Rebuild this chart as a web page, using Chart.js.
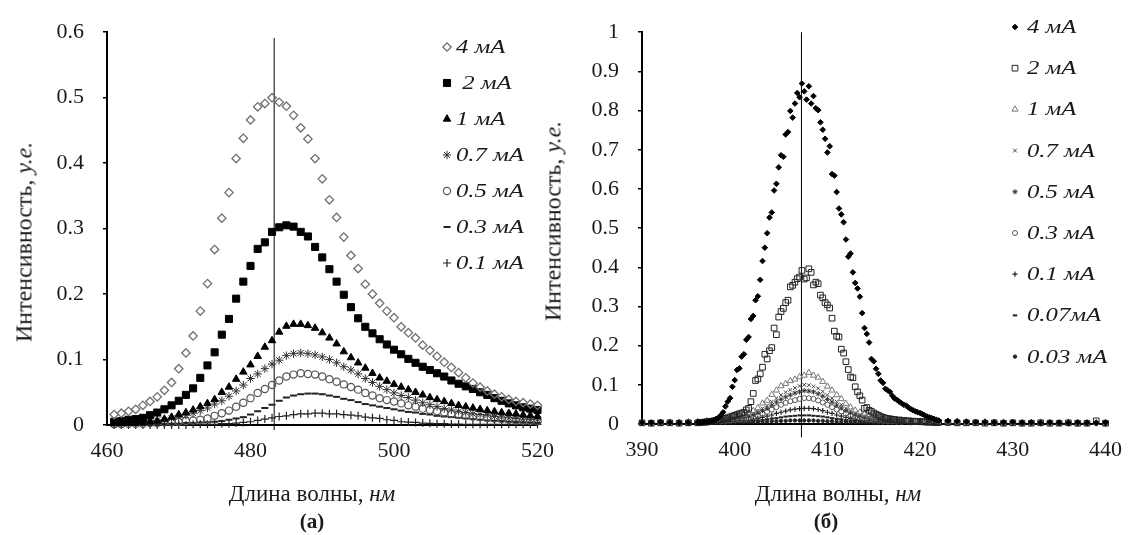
<!DOCTYPE html>
<html>
<head>
<meta charset="utf-8">
<script src="https://cdn.jsdelivr.net/npm/chart.js@4.4.0/dist/chart.umd.min.js"></script>
<style>
  body { margin: 0; background: #fff; font-family: "Liberation Serif", serif; color: #1a1a1a; }
  #wrap { position: relative; width: 1135px; height: 535px; overflow: hidden; }
  canvas { position: absolute; top: 0; }
  .t { position: absolute; font-size: 23px; white-space: nowrap; transform: translate(-50%, -50%); }
  .rot { font-size: 24px; transform: translate(-50%, -50%) rotate(-90deg); }
  .cap { font-weight: bold; font-size: 21px; }
</style>
</head>
<body>
<div id="wrap">
  <canvas id="chartA" width="567" height="535" style="left:0"></canvas>
  <canvas id="chartB" width="568" height="535" style="left:567px"></canvas>
  <div class="t rot" style="left:24px;top:242px">Интенсивность, <i>у.е.</i></div>
  <div class="t rot" style="left:553px;top:221px">Интенсивность, <i>у.е.</i></div>
  <div class="t" style="left:312px;top:494px">Длина волны, <i>нм</i></div>
  <div class="t" style="left:838px;top:494px">Длина волны, <i>нм</i></div>
  <div class="t cap" style="left:312px;top:521px">(а)</div>
  <div class="t cap" style="left:826px;top:521px">(б)</div>
</div>
<script>
// ---------- панель (а): 460–520 нм ----------
const wavelengthA = [461, 462, 463, 464, 465, 466, 467, 468, 469, 470,
  471, 472, 473, 474, 475, 476, 477, 478, 479, 480,
  481, 482, 483, 484, 485, 486, 487, 488, 489, 490,
  491, 492, 493, 494, 495, 496, 497, 498, 499, 500,
  501, 502, 503, 504, 505, 506, 507, 508, 509, 510,
  511, 512, 513, 514, 515, 516, 517, 518, 519, 520];
const currentsA = ['4 мА', ' 2 мА', '1 мА', '0.7 мА', '0.5 мА', '0.3 мА', '0.1 мА'];

const i4A = [0.016, 0.018, 0.021, 0.024, 0.030, 0.036, 0.043, 0.053, 0.065, 0.086,
  0.110, 0.136, 0.174, 0.216, 0.268, 0.316, 0.355, 0.407, 0.438, 0.466,
  0.486, 0.491, 0.500, 0.493, 0.487, 0.473, 0.454, 0.437, 0.407, 0.376,
  0.344, 0.317, 0.287, 0.259, 0.239, 0.215, 0.200, 0.186, 0.174, 0.164,
  0.150, 0.141, 0.133, 0.122, 0.114, 0.105, 0.096, 0.088, 0.080, 0.072,
  0.064, 0.058, 0.052, 0.047, 0.043, 0.039, 0.036, 0.034, 0.032, 0.030];
const i2A = [0.005, 0.006, 0.008, 0.009, 0.011, 0.015, 0.019, 0.024, 0.030, 0.037,
  0.046, 0.056, 0.072, 0.091, 0.111, 0.138, 0.162, 0.193, 0.219, 0.243,
  0.269, 0.279, 0.295, 0.302, 0.305, 0.303, 0.295, 0.288, 0.272, 0.256,
  0.238, 0.219, 0.199, 0.180, 0.163, 0.150, 0.140, 0.131, 0.123, 0.115,
  0.108, 0.101, 0.095, 0.089, 0.084, 0.079, 0.074, 0.068, 0.063, 0.059,
  0.055, 0.050, 0.046, 0.041, 0.037, 0.033, 0.030, 0.027, 0.025, 0.023];
const i1A = [0.002, 0.002, 0.003, 0.003, 0.004, 0.005, 0.006, 0.009, 0.012, 0.016,
  0.019, 0.023, 0.028, 0.033, 0.039, 0.050, 0.058, 0.070, 0.081, 0.092,
  0.105, 0.119, 0.129, 0.142, 0.151, 0.154, 0.154, 0.152, 0.148, 0.141,
  0.133, 0.124, 0.112, 0.103, 0.095, 0.087, 0.079, 0.072, 0.067, 0.062,
  0.058, 0.054, 0.050, 0.046, 0.042, 0.039, 0.036, 0.033, 0.030, 0.028,
  0.026, 0.024, 0.022, 0.0205, 0.019, 0.018, 0.017, 0.0155, 0.0145, 0.0135];
const i07A = [0.002, 0.003, 0.003, 0.004, 0.005, 0.006, 0.007, 0.008, 0.010, 0.012,
  0.015, 0.018, 0.022, 0.026, 0.032, 0.037, 0.044, 0.052, 0.061, 0.071,
  0.078, 0.086, 0.093, 0.099, 0.106, 0.109, 0.110, 0.109, 0.107, 0.104,
  0.100, 0.095, 0.089, 0.084, 0.078, 0.071, 0.065, 0.059, 0.054, 0.049,
  0.045, 0.042, 0.038, 0.034, 0.031, 0.028, 0.025, 0.023, 0.021, 0.019,
  0.017, 0.016, 0.015, 0.013, 0.012, 0.011, 0.010, 0.009, 0.0085, 0.008];
const i05A = [0.001, 0.001, 0.002, 0.002, 0.002, 0.003, 0.003, 0.004, 0.004, 0.005,
  0.006, 0.007, 0.008, 0.010, 0.014, 0.018, 0.022, 0.028, 0.034, 0.041,
  0.049, 0.055, 0.061, 0.068, 0.074, 0.077, 0.079, 0.078, 0.077, 0.074,
  0.070, 0.066, 0.062, 0.058, 0.054, 0.049, 0.045, 0.041, 0.038, 0.036,
  0.033, 0.030, 0.028, 0.025, 0.023, 0.021, 0.019, 0.017, 0.016, 0.0145,
  0.013, 0.012, 0.011, 0.010, 0.009, 0.008, 0.007, 0.0065, 0.006, 0.0055];
const i03A = [0, 0, 0.001, 0.001, 0.001, 0.001, 0.001, 0.002, 0.002, 0.002,
  0.003, 0.003, 0.004, 0.004, 0.005, 0.006, 0.008, 0.010, 0.012, 0.016,
  0.021, 0.026, 0.031, 0.037, 0.042, 0.045, 0.047, 0.048, 0.048, 0.047,
  0.045, 0.043, 0.040, 0.038, 0.035, 0.032, 0.030, 0.028, 0.026, 0.024,
  0.022, 0.020, 0.019, 0.017, 0.016, 0.014, 0.013, 0.012, 0.011, 0.010,
  0.009, 0.008, 0.007, 0.0065, 0.006, 0.005, 0.0045, 0.004, 0.0035, 0.003];
const i01A = [0, 0, 0, 0, 0, 0, 0, 0, 0, 0,
  0, 0.001, 0.001, 0.001, 0.001, 0.002, 0.002, 0.003, 0.004, 0.005,
  0.007, 0.009, 0.011, 0.013, 0.014, 0.016, 0.017, 0.017, 0.018, 0.018,
  0.017, 0.017, 0.016, 0.015, 0.014, 0.012, 0.011, 0.010, 0.008, 0.007,
  0.005, 0.0045, 0.004, 0.003, 0.0025, 0.002, 0.002, 0.0015, 0.0015, 0.001,
  0.001, 0.001, 0.001, 0.001, 0.001, 0.001, 0.001, 0.001, 0.001, 0.001];
const peakLineA = 483.3;

// ---------- панель (б): 390–440 нм ----------
const currentsB = ['4 мА', '2 мА', '1 мА', '0.7 мА', '0.5 мА', '0.3 мА', '0.1 мА', '0.07мА', '0.03 мА'];

// 4 и 2 мА: частая сетка в пике + хвосты
const wlFineB = [396, 396.25, 396.5, 396.75, 397, 397.25, 397.5, 397.75,
  398, 398.25, 398.5, 398.75, 399, 399.25, 399.5, 399.75,
  400, 400.25, 400.5, 400.75, 401, 401.25, 401.5, 401.75,
  402, 402.25, 402.5, 402.75, 403, 403.25, 403.5, 403.75,
  404, 404.25, 404.5, 404.75, 405, 405.25, 405.5, 405.75,
  406, 406.25, 406.5, 406.75, 407, 407.25, 407.5, 407.75,
  408, 408.25, 408.5, 408.75, 409, 409.25, 409.5, 409.75,
  410, 410.25, 410.5, 410.75, 411, 411.25, 411.5, 411.75,
  412, 412.25, 412.5, 412.75, 413, 413.25, 413.5, 413.75,
  414, 414.25, 414.5, 414.75, 415, 415.25, 415.5, 415.75,
  416, 416.25, 416.5, 416.75, 417, 417.25, 417.5, 417.75,
  418, 418.25, 418.5, 418.75, 419, 419.25, 419.5, 419.75,
  420, 420.25, 420.5, 420.75, 421, 421.25, 421.5, 421.75, 422];
const i4FineB = [0.004, 0.005, 0.004, 0.006, 0.005, 0.007, 0.008, 0.010,
  0.013, 0.016, 0.022, 0.030, 0.045, 0.057, 0.066, 0.095,
  0.112, 0.138, 0.142, 0.172, 0.178, 0.215, 0.222, 0.268,
  0.276, 0.316, 0.326, 0.368, 0.416, 0.450, 0.487, 0.527,
  0.540, 0.596, 0.613, 0.655, 0.686, 0.682, 0.739, 0.745,
  0.799, 0.782, 0.818, 0.845, 0.834, 0.869, 0.849, 0.828,
  0.862, 0.818, 0.837, 0.806, 0.801, 0.770, 0.751, 0.728,
  0.693, 0.709, 0.638, 0.634, 0.592, 0.550, 0.535, 0.515,
  0.471, 0.427, 0.435, 0.387, 0.360, 0.346, 0.325, 0.283,
  0.245, 0.230, 0.208, 0.166, 0.160, 0.141, 0.128, 0.111,
  0.105, 0.090, 0.086, 0.082, 0.072, 0.065, 0.062, 0.057,
  0.053, 0.049, 0.047, 0.042, 0.038, 0.035, 0.032, 0.030,
  0.028, 0.025, 0.022, 0.019, 0.017, 0.015, 0.013, 0.011, 0.009];
const i2FineB = [0.003, 0.004, 0.004, 0.005, 0.005, 0.006, 0.007, 0.008,
  0.009, 0.010, 0.011, 0.013, 0.014, 0.016, 0.018, 0.020,
  0.022, 0.024, 0.026, 0.028, 0.030, 0.036, 0.040, 0.057,
  0.078, 0.111, 0.115, 0.128, 0.145, 0.178, 0.166, 0.187,
  0.195, 0.245, 0.228, 0.273, 0.287, 0.295, 0.310, 0.316,
  0.350, 0.354, 0.362, 0.371, 0.375, 0.392, 0.370, 0.373,
  0.396, 0.387, 0.355, 0.362, 0.358, 0.329, 0.322, 0.310,
  0.304, 0.296, 0.270, 0.237, 0.224, 0.222, 0.191, 0.181,
  0.159, 0.139, 0.120, 0.118, 0.095, 0.082, 0.072, 0.061,
  0.040, 0.042, 0.035, 0.032, 0.028, 0.025, 0.022, 0.019,
  0.017, 0.015, 0.014, 0.013, 0.012, 0.011, 0.010, 0.010,
  0.009, 0.009, 0.008, 0.008, 0.007, 0.007, 0.007, 0.006,
  0.006, 0.006, 0.005, 0.005, 0.005, 0.005, 0.004, 0.004, 0.004];
const wlWideTailB = [390, 391, 392, 393, 394, 395,
  423, 424, 425, 426, 427, 428, 429, 430, 431, 432, 433, 434, 435, 436, 437, 438, 439, 440];
const i4TailB = [0.004, 0.003, 0.005, 0.004, 0.003, 0.004,
  0.008, 0.007, 0.006, 0.005, 0.005, 0.004, 0.004, 0.005, 0.003, 0.004, 0.003, 0.004, 0.003, 0.003, 0.004, 0.003, 0.003, 0.004];
const i2TailB = [0.003, 0.002, 0.003, 0.003, 0.002, 0.003,
  0.004, 0.003, 0.003, 0.003, 0.002, 0.003, 0.002, 0.003, 0.002, 0.002, 0.003, 0.002, 0.002, 0.003, 0.002, 0.002, 0.008, 0.002];

// малые токи: шаг 0.5 нм в пике, 1 нм на хвостах
const wlPeakB = [398, 398.5, 399, 399.5, 400, 400.5, 401, 401.5, 402, 402.5,
  403, 403.5, 404, 404.5, 405, 405.5, 406, 406.5, 407, 407.5,
  408, 408.5, 409, 409.5, 410, 410.5, 411, 411.5, 412, 412.5,
  413, 413.5, 414, 414.5, 415, 415.5, 416, 416.5, 417, 417.5, 418];
const wlTailB = [390, 391, 392, 393, 394, 395, 396, 397,
  419, 420, 421, 422, 423, 424, 425, 426, 427, 428, 429, 430, 431,
  432, 433, 434, 435, 436, 437, 438, 439, 440];

const i1PeakB = [0.011, 0.013, 0.015, 0.017, 0.019, 0.022, 0.024, 0.028, 0.034, 0.041,
  0.053, 0.060, 0.075, 0.086, 0.097, 0.103, 0.110, 0.114, 0.120, 0.124,
  0.131, 0.124, 0.119, 0.108, 0.096, 0.086, 0.074, 0.064, 0.052, 0.043,
  0.035, 0.030, 0.025, 0.022, 0.019, 0.017, 0.015, 0.013, 0.012, 0.011, 0.010];
const i07PeakB = [0.009, 0.010, 0.012, 0.013, 0.015, 0.017, 0.019, 0.022, 0.027, 0.032,
  0.040, 0.047, 0.057, 0.066, 0.074, 0.081, 0.087, 0.092, 0.097, 0.100,
  0.099, 0.096, 0.091, 0.083, 0.074, 0.066, 0.057, 0.049, 0.040, 0.033,
  0.027, 0.023, 0.020, 0.017, 0.015, 0.013, 0.012, 0.010, 0.009, 0.009, 0.008];
const i05PeakB = [0.008, 0.009, 0.010, 0.011, 0.013, 0.015, 0.017, 0.019, 0.023, 0.028,
  0.034, 0.040, 0.048, 0.056, 0.063, 0.069, 0.074, 0.079, 0.082, 0.085,
  0.084, 0.082, 0.077, 0.071, 0.063, 0.056, 0.048, 0.041, 0.034, 0.028,
  0.023, 0.020, 0.017, 0.015, 0.013, 0.011, 0.010, 0.009, 0.008, 0.008, 0.007];
const i03PeakB = [0.007, 0.007, 0.008, 0.009, 0.010, 0.012, 0.013, 0.015, 0.018, 0.022,
  0.026, 0.031, 0.037, 0.043, 0.049, 0.054, 0.058, 0.061, 0.064, 0.066,
  0.066, 0.064, 0.060, 0.055, 0.049, 0.043, 0.037, 0.032, 0.027, 0.022,
  0.018, 0.016, 0.014, 0.012, 0.010, 0.009, 0.008, 0.007, 0.007, 0.006, 0.006];
const i01PeakB = [0.005, 0.005, 0.006, 0.006, 0.007, 0.008, 0.009, 0.010, 0.012, 0.014,
  0.017, 0.020, 0.023, 0.027, 0.030, 0.033, 0.036, 0.038, 0.039, 0.040,
  0.040, 0.039, 0.037, 0.034, 0.030, 0.027, 0.023, 0.020, 0.017, 0.014,
  0.012, 0.010, 0.009, 0.008, 0.007, 0.006, 0.006, 0.005, 0.005, 0.005, 0.004];
const i007PeakB = [0.004, 0.004, 0.004, 0.005, 0.005, 0.006, 0.006, 0.007, 0.008, 0.009,
  0.010, 0.012, 0.014, 0.015, 0.017, 0.019, 0.020, 0.021, 0.022, 0.022,
  0.022, 0.021, 0.020, 0.019, 0.017, 0.015, 0.013, 0.012, 0.010, 0.009,
  0.008, 0.007, 0.006, 0.006, 0.005, 0.005, 0.005, 0.004, 0.004, 0.004, 0.004];
const i003PeakB = [0.003, 0.003, 0.003, 0.003, 0.004, 0.004, 0.004, 0.004, 0.005, 0.005,
  0.006, 0.006, 0.007, 0.007, 0.008, 0.008, 0.009, 0.009, 0.009, 0.009,
  0.009, 0.009, 0.008, 0.008, 0.007, 0.007, 0.006, 0.006, 0.005, 0.005,
  0.004, 0.004, 0.004, 0.004, 0.003, 0.003, 0.003, 0.003, 0.003, 0.003, 0.003];

const i1TailB = [0.004, 0.003, 0.004, 0.003, 0.004, 0.005, 0.006, 0.008,
  0.008, 0.007, 0.006, 0.006, 0.005, 0.005, 0.004, 0.004, 0.005, 0.004, 0.004, 0.003, 0.004,
  0.003, 0.004, 0.003, 0.003, 0.004, 0.003, 0.003, 0.003, 0.003];
const i07TailB = [0.003, 0.003, 0.004, 0.003, 0.003, 0.004, 0.005, 0.007,
  0.007, 0.006, 0.006, 0.005, 0.005, 0.004, 0.004, 0.004, 0.003, 0.004, 0.003, 0.003, 0.003,
  0.004, 0.003, 0.003, 0.002, 0.003, 0.003, 0.002, 0.003, 0.003];
const i05TailB = [0.003, 0.002, 0.003, 0.003, 0.002, 0.003, 0.004, 0.006,
  0.006, 0.006, 0.005, 0.005, 0.004, 0.004, 0.004, 0.003, 0.003, 0.003, 0.003, 0.002, 0.003,
  0.003, 0.002, 0.002, 0.003, 0.002, 0.002, 0.002, 0.002, 0.002];
const i03TailB = [0.002, 0.002, 0.002, 0.003, 0.002, 0.002, 0.003, 0.005,
  0.005, 0.005, 0.004, 0.004, 0.004, 0.003, 0.003, 0.003, 0.003, 0.002, 0.002, 0.002, 0.002,
  0.002, 0.002, 0.002, 0.002, 0.002, 0.001, 0.002, 0.002, 0.001];
const i01TailB = [0.002, 0.001, 0.002, 0.002, 0.001, 0.002, 0.003, 0.004,
  0.004, 0.004, 0.003, 0.003, 0.003, 0.002, 0.002, 0.002, 0.002, 0.002, 0.001, 0.002, 0.001,
  0.002, 0.001, 0.001, 0.002, 0.001, 0.001, 0.001, 0.001, 0.001];
const i007TailB = [0.001, 0.001, 0.002, 0.001, 0.001, 0.002, 0.002, 0.003,
  0.003, 0.003, 0.003, 0.002, 0.002, 0.002, 0.002, 0.001, 0.002, 0.001, 0.001, 0.001, 0.001,
  0.001, 0.001, 0.001, 0.001, 0.001, 0.001, 0.001, 0.001, 0.001];
const i003TailB = [0.001, 0.001, 0.001, 0.001, 0.001, 0.001, 0.002, 0.002,
  0.002, 0.002, 0.002, 0.002, 0.001, 0.001, 0.001, 0.001, 0.001, 0.001, 0.001, 0.001, 0.001,
  0.001, 0.001, 0.001, 0.001, 0.001, 0.001, 0.001, 0.001, 0.001];
const peakLineB = 407.2;

// ---------- оформление ----------
const serif = '"Liberation Serif", serif';
const tickFont = { family: serif, size: 22 };

const stylesA = [
  { pointStyle: 'rectRot', radius: 4.2, color: '#707070', fill: 'rgba(255,255,255,0)', bw: 1.3 },
  { pointStyle: 'rect', radius: 5, color: '#000', fill: '#000', bw: 1 },
  { pointStyle: 'triangle', radius: 4.3, color: '#000', fill: '#000', bw: 1 },
  { pointStyle: 'star', radius: 4.2, color: '#333', fill: '#333', bw: 1 },
  { pointStyle: 'circle', radius: 3.6, color: '#555', fill: 'rgba(255,255,255,0)', bw: 1.2 },
  { pointStyle: 'line', radius: 3.5, color: '#222', fill: '#222', bw: 2 },
  { pointStyle: 'cross', radius: 4, color: '#222', fill: '#222', bw: 1.2 }
];
const stylesB = [
  { pointStyle: 'rectRot', radius: 2.8, color: '#000', fill: '#000', bw: 1 },
  { pointStyle: 'rect', radius: 4, color: '#222', fill: 'rgba(255,255,255,0)', bw: 1 },
  { pointStyle: 'triangle', radius: 3.5, color: '#777', fill: 'rgba(255,255,255,0)', bw: 1 },
  { pointStyle: 'crossRot', radius: 2.6, color: '#444', fill: '#444', bw: 1 },
  { pointStyle: 'star', radius: 2.6, color: '#333', fill: '#333', bw: 1 },
  { pointStyle: 'circle', radius: 2.5, color: '#555', fill: 'rgba(255,255,255,0)', bw: 1 },
  { pointStyle: 'cross', radius: 2.6, color: '#222', fill: '#222', bw: 1.2 },
  { pointStyle: 'line', radius: 2.2, color: '#222', fill: '#222', bw: 2 },
  { pointStyle: 'circle', radius: 1.7, color: '#222', fill: '#222', bw: 1 }
];

function pts(xs, ys) {
  return xs.map((x, i) => ({ x: x, y: ys[i] }));
}

function markSet(label, data, st) {
  return {
    label: label, data: data, showLine: false, clip: false,
    pointStyle: st.pointStyle, pointRadius: st.radius,
    pointBorderColor: st.color, pointBackgroundColor: st.fill,
    pointBorderWidth: st.bw, borderWidth: st.bw
  };
}

function peakLine(x, yLow, yHigh) {
  return {
    label: '', data: [{ x: x, y: yLow }, { x: x, y: yHigh }],
    showLine: true, pointRadius: 0, borderColor: '#000', borderWidth: 1, clip: false
  };
}

// легенда внутри области графика: маркер + курсивная подпись (шрифт в оригинале растянут по ширине)
function markLegend(labels, pos) {
  return {
    id: 'markLegend',
    afterDatasetsDraw(chart) {
      const ctx = chart.ctx;
      labels.forEach((text, i) => {
        const ds = chart.data.datasets[i];
        const y = pos.y + i * pos.dy;
        ctx.save();
        ctx.fillStyle = ds.pointBackgroundColor;
        ctx.strokeStyle = ds.pointBorderColor;
        ctx.lineWidth = ds.pointBorderWidth;
        Chart.helpers.drawPoint(ctx, {
          pointStyle: ds.pointStyle, radius: ds.pointRadius,
          borderWidth: ds.pointBorderWidth, rotation: 0
        }, pos.markX, y);
        ctx.translate(pos.textX, y);
        ctx.scale(1.3, 1);
        ctx.textBaseline = 'middle';
        ctx.font = 'italic 19px ' + serif;
        ctx.fillStyle = '#1a1a1a';
        ctx.fillText(text, 0, 1);
        ctx.restore();
      });
    }
  };
}

function buildChart(id, datasets, o, legend) {
  return new Chart(document.getElementById(id), {
    type: 'scatter',
    data: { datasets: datasets },
    options: {
      responsive: false, animation: false, events: [],
      layout: { padding: { left: 0, top: o.top, right: o.right, bottom: 0 } },
      plugins: { legend: { display: false }, tooltip: { enabled: false } },
      scales: {
        x: {
          type: 'linear', min: o.xMin, max: o.xMax,
          afterFit(s) { s.height = o.xAxisH; },
          ticks: { stepSize: o.xStep, padding: 13, color: '#1a1a1a', font: tickFont, maxRotation: 0, autoSkip: false },
          grid: { display: false, drawTicks: false },
          border: { display: true, color: '#000', width: 2 }
        },
        y: {
          min: 0, max: o.yMax,
          afterFit(s) { s.width = o.yAxisW; },
          ticks: {
            stepSize: 0.1, padding: 19, color: '#1a1a1a', font: tickFont, autoSkip: false,
            callback: (v) => String(Math.round(v * 10) / 10)
          },
          grid: { display: true, drawOnChartArea: false, drawTicks: true, tickLength: 4, color: '#000', lineWidth: 1.5 },
          border: { display: true, color: '#000', width: 2 }
        }
      }
    },
    plugins: [legend]
  });
}

const seriesA = [i4A, i2A, i1A, i07A, i05A, i03A, i01A];
const datasetsA = seriesA.map((ys, k) => markSet(currentsA[k], pts(wavelengthA, ys), stylesA[k]));
datasetsA.push(peakLine(peakLineA, -0.008, 0.591));

buildChart('chartA', datasetsA,
  { top: 24, right: 20, xMin: 460, xMax: 520, xStep: 20, yMax: 0.6, xAxisH: 110, yAxisW: 107 },
  markLegend(currentsA, { markX: 447, textX: 456, y: 47, dy: 36 }));

const datasetsB = [
  markSet(currentsB[0], pts(wlWideTailB, i4TailB).concat(pts(wlFineB, i4FineB)), stylesB[0]),
  markSet(currentsB[1], pts(wlWideTailB, i2TailB).concat(pts(wlFineB, i2FineB)), stylesB[1])
];
const smallB = [[i1TailB, i1PeakB], [i07TailB, i07PeakB], [i05TailB, i05PeakB], [i03TailB, i03PeakB],
  [i01TailB, i01PeakB], [i007TailB, i007PeakB], [i003TailB, i003PeakB]];
smallB.forEach((pair, k) => {
  datasetsB.push(markSet(currentsB[k + 2], pts(wlTailB, pair[0]).concat(pts(wlPeakB, pair[1])), stylesB[k + 2]));
});
datasetsB.push(peakLine(peakLineB, -0.034, 1.0));

buildChart('chartB', datasetsB,
  { top: 27, right: 23, xMin: 390, xMax: 440, xStep: 10, yMax: 1, xAxisH: 111, yAxisW: 75 },
  markLegend(currentsB, { markX: 448, textX: 460, y: 27, dy: 41.2 }));
</script>
</body>
</html>
